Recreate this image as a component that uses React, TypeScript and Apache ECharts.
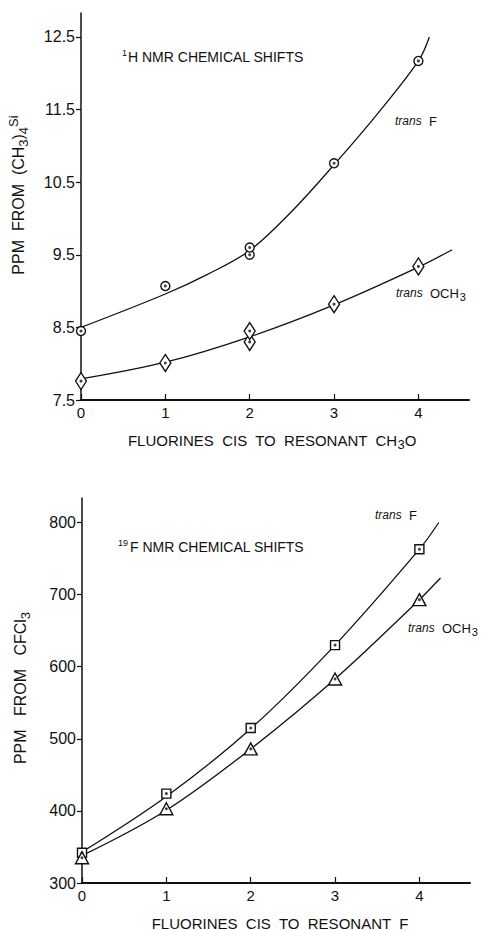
import React, { useEffect, useRef } from "react";
import * as echarts from "echarts";

// ---- Top chart: 1H NMR chemical shifts ----
const hTickValues = [7.5, 8.5, 9.5, 10.5, 11.5, 12.5];
const hTickLabels = ["7.5", "8.5", "9.5", "10.5", "11.5", "12.5"];
const xTickValues = [0, 1, 2, 3, 4];
const xTickLabels = ["0", "1", "2", "3", "4"];

const hTransF_x = [0, 1, 2, 2, 3, 4];
const hTransF_y = [8.45, 9.07, 9.5, 9.6, 10.76, 12.17];
const hTransOCH3_x = [0, 1, 2, 2, 3, 4];
const hTransOCH3_y = [7.76, 8.01, 8.3, 8.45, 8.82, 9.34];

// fitted curves
const hCurveF_x = [0, 1, 1.5, 2, 2.5, 3, 3.5, 4, 4.13];
const hCurveF_y = [8.5, 8.96, 9.23, 9.56, 10.1, 10.74, 11.42, 12.17, 12.5];
const hCurveO_x = [0, 1, 2, 3, 4, 4.4];
const hCurveO_y = [7.79, 8.02, 8.37, 8.81, 9.33, 9.57];

// ---- Bottom chart: 19F NMR chemical shifts ----
const fTickValues = [300, 400, 500, 600, 700, 800];
const fTickLabels = ["300", "400", "500", "600", "700", "800"];

const fTransF_x = [0, 1, 2, 3, 4];
const fTransF_y = [342, 424, 515, 630, 763];
const fTransOCH3_x = [0, 1, 2, 3, 4];
const fTransOCH3_y = [335, 403, 486, 583, 693];

const fCurveF_x = [0, 1, 2, 3, 4, 4.23];
const fCurveF_y = [343, 420, 514, 630, 763, 800];
const fCurveO_x = [0, 1, 2, 3, 4, 4.25];
const fCurveO_y = [338, 401, 486, 583, 693, 723];

const pairs = (xs: number[], ys: number[]) => xs.map((x, i) => [x, ys[i]]);

const FONT = "Liberation Sans";
const INK = "#111";

export default function App() {
  const ref = useRef<HTMLDivElement>(null);
  useEffect(() => {
    if (!ref.current) return;
    const chart = echarts.init(ref.current, null, { renderer: "svg" });

    const xAxisCommon = (gridIndex: number) => ({
      type: "value",
      gridIndex,
      min: 0,
      max: 4.6,
      splitLine: { show: false },
      axisLine: { onZero: false, lineStyle: { color: INK, width: 2 } },
      axisTick: {
        inside: true,
        length: 6,
        customValues: xTickValues,
        lineStyle: { color: INK, width: 1.2 },
      },
      axisLabel: {
        customValues: xTickValues,
        formatter: (v: number) => xTickLabels[xTickValues.indexOf(v)] ?? "",
        margin: 5,
        color: INK,
        fontFamily: FONT,
        fontSize: 15,
      },
    });

    const yAxisCommon = (gridIndex: number, min: number, max: number, vals: number[], labs: string[]) => ({
      type: "value",
      gridIndex,
      min,
      max,
      splitLine: { show: false },
      axisLine: { onZero: false, lineStyle: { color: INK, width: 1.5 } },
      axisTick: {
        inside: false,
        length: 5,
        customValues: vals,
        lineStyle: { color: INK, width: 1.2 },
      },
      axisLabel: {
        customValues: vals,
        formatter: (v: number) => {
          const i = vals.findIndex((t) => Math.abs(t - v) < 1e-6);
          return i >= 0 ? labs[i] : "";
        },
        margin: 6,
        color: INK,
        fontFamily: FONT,
        fontSize: 16,
      },
    });

    const curve = (data: number[][], xi: number) => ({
      type: "line",
      xAxisIndex: xi,
      yAxisIndex: xi,
      data,
      smooth: 0.35,
      showSymbol: false,
      symbol: "none",
      lineStyle: { color: INK, width: 1.3 },
      z: 1,
    });

    const marks = (data: number[][], xi: number, symbol: string, size: any) => ({
      type: "scatter",
      xAxisIndex: xi,
      yAxisIndex: xi,
      data,
      symbol,
      symbolSize: size,
      itemStyle: { color: "#fff", borderColor: INK, borderWidth: 1.4, opacity: 1 },
      z: 3,
    });

    const dots = (data: number[][], xi: number) => ({
      type: "scatter",
      xAxisIndex: xi,
      yAxisIndex: xi,
      data,
      symbol: "circle",
      symbolSize: 3,
      itemStyle: { color: INK },
      z: 4,
    });

    const textStyleBase = { fill: INK, fontFamily: FONT };

    const option: any = {
      animation: false,
      backgroundColor: "#fff",
      grid: [
        { left: 81, right: 15, top: 13, bottom: 530 },
        { left: 82, right: 14, top: 498, bottom: 47 },
      ],
      xAxis: [xAxisCommon(0), xAxisCommon(1)],
      yAxis: [
        yAxisCommon(0, 7.5, 12.83, hTickValues, hTickLabels),
        yAxisCommon(1, 300, 834, fTickValues, fTickLabels),
      ],
      series: [
        curve(pairs(hCurveF_x, hCurveF_y), 0),
        curve(pairs(hCurveO_x, hCurveO_y), 0),
        marks(pairs(hTransF_x, hTransF_y), 0, "circle", 9),
        dots(pairs(hTransF_x, hTransF_y), 0),
        marks(pairs(hTransOCH3_x, hTransOCH3_y), 0, "diamond", [11, 17]),
        dots(pairs(hTransOCH3_x, hTransOCH3_y), 0),
        curve(pairs(fCurveF_x, fCurveF_y), 1),
        curve(pairs(fCurveO_x, fCurveO_y), 1),
        marks(pairs(fTransF_x, fTransF_y), 1, "rect", 9),
        dots(pairs(fTransF_x, fTransF_y), 1),
        marks(pairs(fTransOCH3_x, fTransOCH3_y), 1, "triangle", [13, 12]),
        dots(pairs(fTransOCH3_x, fTransOCH3_y), 1),
      ],
      graphic: [
        // top chart annotations
        {
          type: "text",
          x: 122,
          y: 57,
          style: {
            ...textStyleBase,
            text: "{s|1}{n|H NMR CHEMICAL SHIFTS}",
            verticalAlign: "middle",
            rich: {
              s: { fontSize: 9, padding: [0, 1, 8, 0], fontFamily: FONT },
              n: { fontSize: 14, fontFamily: FONT },
            },
          },
        },
        {
          type: "text",
          x: 395,
          y: 121,
          style: {
            ...textStyleBase,
            text: "{i|trans}{n|  F}",
            verticalAlign: "middle",
            rich: {
              i: { fontSize: 12, fontStyle: "italic", fontFamily: FONT },
              n: { fontSize: 13, fontFamily: FONT },
            },
          },
        },
        {
          type: "text",
          x: 396,
          y: 293,
          style: {
            ...textStyleBase,
            text: "{i|trans}{n|  OCH}{b|3}",
            verticalAlign: "middle",
            rich: {
              i: { fontSize: 12, fontStyle: "italic", fontFamily: FONT },
              n: { fontSize: 13, fontFamily: FONT },
              b: { fontSize: 11, fontFamily: FONT, padding: [8, 0, 0, 1] },
            },
          },
        },
        {
          type: "text",
          x: 272,
          y: 440,
          style: {
            ...textStyleBase,
            text: "{n|FLUORINES  CIS  TO  RESONANT  CH}{b|3}{n|O}",
            align: "center",
            verticalAlign: "middle",
            rich: {
              n: { fontSize: 15, fontFamily: FONT },
              b: { fontSize: 13, fontFamily: FONT, padding: [9, 0, 0, 0] },
            },
          },
        },
        {
          type: "text",
          x: 18,
          y: 195,
          rotation: Math.PI / 2,
          style: {
            ...textStyleBase,
            text: "{n|PPM  FROM  (CH}{b|3}{n|)}{b|4}{p|Si}",
            align: "center",
            verticalAlign: "middle",
            rich: {
              n: { fontSize: 16, fontFamily: FONT },
              b: { fontSize: 13, fontFamily: FONT, padding: [10, 0, 0, 0] },
              p: { fontSize: 13, fontFamily: FONT, padding: [0, 0, 10, 0] },
            },
          },
        },
        // bottom chart annotations
        {
          type: "text",
          x: 118,
          y: 547,
          style: {
            ...textStyleBase,
            text: "{s|19}{n|F NMR CHEMICAL SHIFTS}",
            verticalAlign: "middle",
            rich: {
              s: { fontSize: 9, padding: [0, 2, 8, 0], fontFamily: FONT },
              n: { fontSize: 14, fontFamily: FONT },
            },
          },
        },
        {
          type: "text",
          x: 375,
          y: 515,
          style: {
            ...textStyleBase,
            text: "{i|trans}{n|  F}",
            verticalAlign: "middle",
            rich: {
              i: { fontSize: 12, fontStyle: "italic", fontFamily: FONT },
              n: { fontSize: 13, fontFamily: FONT },
            },
          },
        },
        {
          type: "text",
          x: 408,
          y: 628,
          style: {
            ...textStyleBase,
            text: "{i|trans}{n|  OCH}{b|3}",
            verticalAlign: "middle",
            rich: {
              i: { fontSize: 12, fontStyle: "italic", fontFamily: FONT },
              n: { fontSize: 13, fontFamily: FONT },
              b: { fontSize: 11, fontFamily: FONT, padding: [8, 0, 0, 1] },
            },
          },
        },
        {
          type: "text",
          x: 280,
          y: 923,
          style: {
            ...textStyleBase,
            text: "FLUORINES  CIS  TO  RESONANT  F",
            fontSize: 15,
            align: "center",
            verticalAlign: "middle",
          },
        },
        {
          type: "text",
          x: 20,
          y: 688,
          rotation: Math.PI / 2,
          style: {
            ...textStyleBase,
            text: "{n|PPM   FROM   CFCl}{b|3}",
            align: "center",
            verticalAlign: "middle",
            rich: {
              n: { fontSize: 16, fontFamily: FONT },
              b: { fontSize: 13, fontFamily: FONT, padding: [10, 0, 0, 0] },
            },
          },
        },
      ],
    };

    chart.setOption(option);
    return () => chart.dispose();
  }, []);

  return (
    <div
      ref={ref}
      style={{ width: 484, height: 930, position: "absolute", left: 0, top: 0, background: "#fff" }}
    />
  );
}
